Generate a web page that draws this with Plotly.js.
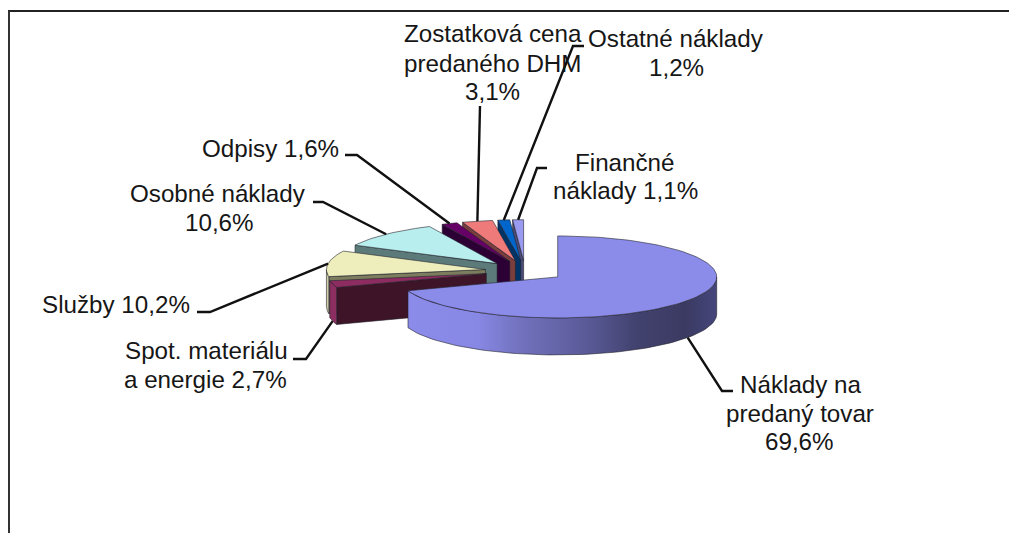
<!DOCTYPE html>
<html>
<head>
<meta charset="utf-8">
<script src="https://cdn.plot.ly/plotly-3.0.0.min.js"></script>
<style>html,body{margin:0;padding:0;background:#fff;overflow:hidden}#chart{width:1009px;height:533px}</style>
</head>
<body>
<div id="chart"></div>
<script>
// --- data (percent shares, clockwise from 12 o'clock) ---
const categories = ["Náklady na predaný tovar","Spot. materiálu a energie","Služby","Osobné náklady","Odpisy","Zostatková cena predaného DHM","Ostatné náklady","Finančné náklady"];
const values = [69.6, 2.7, 10.2, 10.6, 1.6, 3.1, 1.2, 1.1];
const labelLines = [
  ["Náklady na","predaný tovar","{v}"],
  ["Spot. materiálu","a energie {v}"],
  ["Služby {v}"],
  ["Osobné náklady","{v}"],
  ["Odpisy {v}"],
  ["Zostatková cena","predaného DHM","{v}"],
  ["Ostatné náklady","{v}"],
  ["Finančné","náklady {v}"]
];
// --- styles ---
const topColors  = ["#8b8bea","#8c2c60","#eeeebc","#b8eeee","#660066","#ee7a7a","#0066cc","#9a9af0"];
const wallColors = ["#3f3f6e","#3d1428","#7c7c5e","#5c7a7a","#2c0034","#7a3e3e","#003366","#4c4c7a"];
const rimColors  = ["#8b8bea","#8c2f60","#cfcfa8","#9cc8c8","#520052","#c86464","#0055aa","#7c7cc8"];
const rimGradient = [[0,"#8b8bea"],[0.23,"#8787e4"],[0.36,"#7272be"],[0.58,"#5a5a98"],[0.74,"#42426f"],[0.9,"#3a3a62"],[1,"#46467c"]];
const outline = "rgba(35,35,45,0.75)";
// --- layout of the drawing (pixels of the page) ---
const cx = 525, cy = 271, rx = 159, ry = 41, depth = 37, explode = 40;
const fontSize = 24.2;
const labelPos = [
  [[801,384],[800,413],[799,441]],
  [[206,350],[205,379]],
  [[116,304]],
  [[218,193],[219,222]],
  [[270,148]],
  [[493,33],[492,63],[492,91]],
  [[676,38],[676,67]],
  [[625,162],[625,190]]
];
const elbows = [
  [[733,391],[722,391]],
  [[293,359],[306,359]],
  [[197,312],[210,312]],
  [[313,202],[323,202]],
  [[345,155],[357,155]],
  [[480,106]],
  [[584,46],[573,46]],
  [[547,168],[537,168]]
];

const total = values.reduce((a,b)=>a+b,0);
const rad = d => d*Math.PI/180;
let acc = 0;
const slices = values.map((v,i)=>{
  const s = acc/total*360; acc += v; const e = acc/total*360; const m = (s+e)/2;
  return {i, s, e, m,
    ax: cx + explode*Math.sin(rad(m)),
    ay: cy - explode*(ry/rx)*Math.cos(rad(m))};
});
const rim = (sl,t,dz=0)=>[sl.ax+rx*Math.sin(rad(t)), sl.ay-ry*Math.cos(rad(t))+dz];
const arc = (sl,a,b,dz=0)=>{
  const n = Math.max(2,Math.ceil(Math.abs(b-a)/2)), out=[];
  for(let k=0;k<=n;k++) out.push(rim(sl,a+(b-a)*k/n,dz));
  return out;
};
const poly = (pts,fillcolor,extra={})=>Object.assign({
  type:"scatter",mode:"lines",x:pts.map(p=>p[0]),y:pts.map(p=>p[1]),
  fill:"toself",fillcolor,line:{color:outline,width:0.8},hoverinfo:"skip",showlegend:false
},extra);

const traces = [];
// painter's order: back slices first, main slice last
[7,6,5,4,3,2,1,0].forEach(i=>{
  const sl = slices[i];
  if(sl.s>180){
    const a=[sl.ax,sl.ay], r=rim(sl,sl.s);
    traces.push(poly([a,r,[r[0],r[1]+depth],[a[0],a[1]+depth],a],wallColors[i]));
  }
  const lo=Math.max(sl.s,90), hi=Math.min(sl.e,270);
  if(hi>lo){
    const pts=arc(sl,lo,hi).concat(arc(sl,hi,lo,depth)); pts.push(pts[0]);
    const extra = i===0 ? {fillgradient:{type:"horizontal",colorscale:rimGradient}} : {};
    traces.push(poly(pts,rimColors[i],extra));
  }
  const top=[[sl.ax,sl.ay]].concat(arc(sl,sl.s,sl.e)); top.push(top[0]);
  traces.push(poly(top,topColors[i],{name:categories[i]}));
});
// leader lines: from the slice edge (at its mid angle) to the label
slices.forEach(sl=>{
  const front = Math.cos(rad(sl.m))<0;
  const start = rim(sl,sl.m,front?depth:0);
  const pts = elbows[sl.i].slice().concat([start]);
  traces.push({type:"scatter",mode:"lines",x:pts.map(p=>p[0]),y:pts.map(p=>p[1]),
    line:{color:"#111",width:2.4},hoverinfo:"skip",showlegend:false});
});

const pct = v => v.toFixed(1).replace(".",",")+"%";
const annotations = [];
labelLines.forEach((lines,i)=>lines.forEach((t,j)=>{
  annotations.push({xref:"x",yref:"y",x:labelPos[i][j][0],y:labelPos[i][j][1],
    text:t.replace("{v}",pct(values[i])),showarrow:false,xanchor:"center",yanchor:"middle",
    font:{family:"'Liberation Sans',Arial,sans-serif",size:fontSize,color:"#161616"}});
}));

const layout = {
  width:1009,height:533,margin:{l:0,r:0,t:0,b:0},
  paper_bgcolor:"#fff",plot_bgcolor:"#fff",showlegend:false,
  xaxis:{range:[0,1009],visible:false,fixedrange:true},
  yaxis:{range:[533,0],visible:false,fixedrange:true},
  annotations,
  shapes:[
    {type:"line",xref:"x",yref:"y",x0:8,x1:1009,y0:11,y1:11,line:{color:"#222",width:2}},
    {type:"line",xref:"x",yref:"y",x0:9,x1:9,y0:11,y1:533,line:{color:"#333",width:2}}
  ]
};
Plotly.newPlot("chart",traces,layout,{displayModeBar:false,staticPlot:true});
</script>
</body>
</html>
